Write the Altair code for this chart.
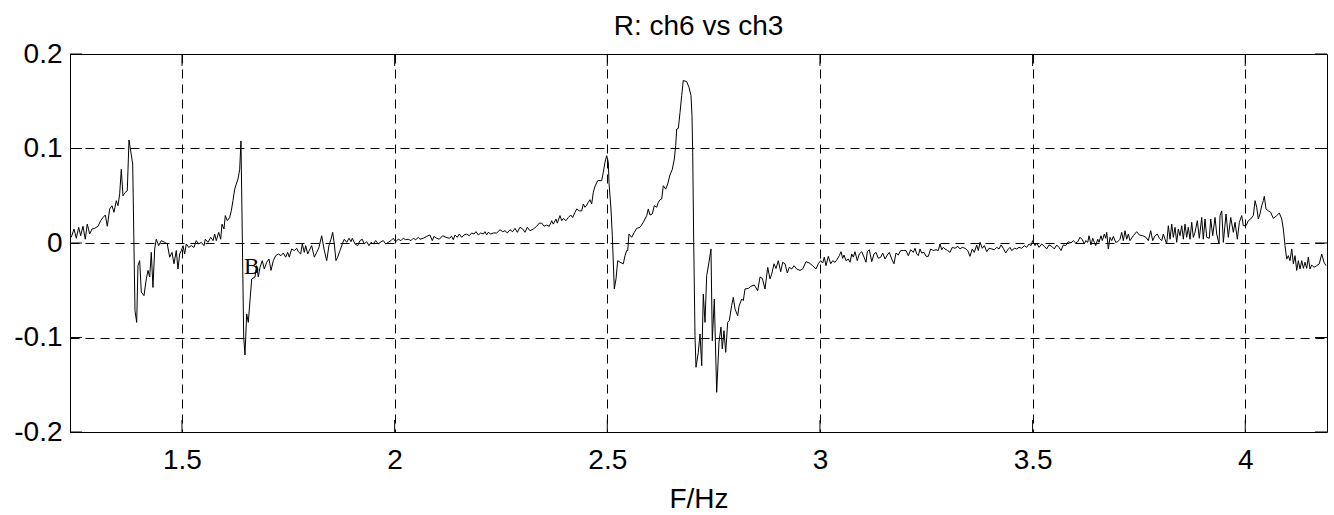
import altair as alt
import pandas as pd

# ---- data: (frequency Hz, R) ----
seg_a = [(1.2397, 0.006), (1.2461, 0.0148), (1.2515, 0.005), (1.2571, 0.0166), (1.2618, 0.0077),
         (1.2672, 0.0177), (1.2726, 0.004), (1.2773, 0.020), (1.2830, 0.0095), (1.2884, 0.0148),
         (1.2947, 0.0155), (1.3025, 0.0177), (1.3088, 0.0236), (1.3142, 0.027), (1.3197, 0.0296),
         (1.3244, 0.0177), (1.3300, 0.036), (1.3354, 0.0395), (1.3401, 0.0325), (1.3455, 0.0448),
         (1.3495, 0.0395), (1.3535, 0.052), (1.3573, 0.078), (1.3613, 0.050), (1.3667, 0.0536),
         (1.3714, 0.0553), (1.3754, 0.109), (1.3841, 0.0836), (1.3895, -0.0716), (1.3935, -0.084),
         (1.3965, -0.024), (1.4005, -0.0187), (1.4043, -0.052), (1.4106, -0.0557), (1.4161, -0.038),
         (1.4201, -0.029), (1.4241, -0.036), (1.4278, -0.0099), (1.4318, -0.047), (1.4358, -0.0063),
         (1.4396, 0.004), (1.4452, -0.0028), (1.4513, 0.0025), (1.4593, 0.0007), (1.4654, -0.001),
         (1.4711, -0.015), (1.4765, -0.0099), (1.4812, -0.022), (1.4866, -0.008), (1.4906, -0.0275),
         (1.4946, -0.0116), (1.4984, -0.008), (1.5024, -0.0028), (1.5063, -0.0116), (1.5101, -0.001),
         (1.5158, -0.0046), (1.5219, -0.0028), (1.5282, -0.0046), (1.5336, 0.0025), (1.5393, -0.001),
         (1.5454, 0.0007), (1.5517, -0.0028), (1.5548, 0.004), (1.5611, 0.0007), (1.5675, 0.006),
         (1.5729, 0.0025), (1.5769, 0.0095), (1.5807, 0.0025), (1.5863, 0.0113), (1.5910, 0.004),
         (1.5941, 0.020), (1.5988, 0.0148), (1.6018, 0.029), (1.6065, 0.0236), (1.6122, 0.027),
         (1.6159, 0.034), (1.6199, 0.0448), (1.6239, 0.057), (1.6277, 0.0624), (1.6317, 0.0677),
         (1.6357, 0.078), (1.6387, 0.108), (1.6451, -0.0995), (1.6481, -0.1185), (1.6521, -0.075),
         (1.6559, -0.084), (1.6639, -0.038), (1.6716, -0.036), (1.6756, -0.024)]

seg_b = [(1.6794, -0.036), (1.6834, -0.0257), (1.6888, -0.0187), (1.6935, -0.0275), (1.6992, -0.0204),
         (1.7046, -0.017), (1.7093, -0.029), (1.7147, -0.0187), (1.7203, -0.0134), (1.7264, -0.0116),
         (1.7328, -0.0134), (1.7382, -0.0106), (1.7438, -0.015), (1.7485, -0.0099), (1.7523, -0.015),
         (1.7579, -0.0063), (1.7641, -0.008), (1.7697, -0.0056), (1.7735, -0.0092), (1.7791, -0.0116),
         (1.7829, -0.001), (1.7876, -0.0099), (1.7909, -0.0028), (1.7956, -0.0116), (1.8010, -0.0063),
         (1.8050, -0.0028), (1.8111, -0.015), (1.8167, -0.0099), (1.8221, -0.0046), (1.8285, 0.0077),
         (1.8339, -0.0063), (1.8402, -0.0187), (1.8456, -0.0028), (1.8503, 0.004), (1.8543, 0.0113),
         (1.8581, -0.001), (1.8621, -0.0187), (1.8661, -0.015), (1.8715, -0.008), (1.8769, -0.001),
         (1.8816, 0.004), (1.8873, 0.0007), (1.8927, 0.005), (1.8974, 0.0014), (1.9004, 0.005),
         (1.9068, -0.001), (1.9131, -0.0028), (1.9185, 0.0025), (1.9239, 0.004), (1.9286, -0.001),
         (1.9343, 0.0014), (1.9397, -0.0028), (1.9444, 0.0007), (1.9498, -0.001), (1.9554, 0.0025),
         (1.9616, -0.001), (1.9679, 0.0014), (1.9733, 0.0025), (1.9790, -0.001), (1.9851, 0.0007),
         (1.9914, 0.0025), (1.9968, 0.005), (2.0025, 0.0014), (2.0086, 0.004), (2.0149, 0.0025),
         (2.0203, 0.005), (2.0260, 0.0035), (2.0321, 0.004), (2.0384, 0.0025), (2.0439, 0.005),
         (2.0495, 0.0035), (2.0556, 0.006)]

seg_c = [(2.0596, 0.004), (2.0674, 0.005), (2.0754, 0.007), (2.0831, 0.0085), (2.0885, 0.0025),
         (2.0925, 0.007), (2.0989, 0.005), (2.1050, 0.004), (2.1130, 0.0077), (2.1207, 0.006),
         (2.1285, 0.005), (2.1341, 0.007), (2.1379, 0.0035), (2.1419, 0.0085), (2.1473, 0.006),
         (2.1520, 0.0095), (2.1577, 0.006), (2.1631, 0.0085), (2.1694, 0.0095), (2.1755, 0.0077),
         (2.1812, 0.0106), (2.1866, 0.0095), (2.1913, 0.012), (2.1967, 0.0085), (2.2023, 0.0106),
         (2.2085, 0.0095), (2.2124, 0.012), (2.2164, 0.0085), (2.2202, 0.0113), (2.2258, 0.0095),
         (2.2320, 0.0106), (2.2400, 0.0106), (2.2477, 0.014), (2.2541, 0.012), (2.2595, 0.013),
         (2.2649, 0.0106), (2.2712, 0.014), (2.2776, 0.012), (2.2830, 0.0155), (2.2884, 0.0113),
         (2.2947, 0.0166), (2.3011, 0.0148), (2.3065, 0.0113), (2.3119, 0.0166), (2.3183, 0.013),
         (2.3260, 0.0148), (2.3340, 0.0177), (2.3401, 0.021), (2.3458, 0.021), (2.3512, 0.0177),
         (2.3575, 0.019), (2.3636, 0.0177), (2.3693, 0.0236), (2.3730, 0.020), (2.3794, 0.0254),
         (2.3825, 0.021), (2.3888, 0.029), (2.3928, 0.0236), (2.3966, 0.026), (2.4029, 0.0236),
         (2.4083, 0.027), (2.4140, 0.0296), (2.4187, 0.027), (2.4241, 0.0325), (2.4281, 0.036),
         (2.4342, 0.034), (2.4398, 0.034), (2.4436, 0.0413), (2.4476, 0.0378), (2.4516, 0.040),
         (2.4553, 0.043), (2.4593, 0.0458), (2.4633, 0.0413), (2.4671, 0.0536)]

seg_d = [(2.4711, 0.060), (2.4775, 0.066), (2.4868, 0.066), (2.4906, 0.0748), (2.4946, 0.0854),
         (2.4986, 0.0924), (2.5024, 0.0854), (2.5040, 0.064), (2.5087, 0.036), (2.5118, 0.0077),
         (2.5165, -0.0487), (2.5205, -0.038), (2.5245, -0.0187), (2.5299, -0.0204), (2.5377, -0.022),
         (2.5416, -0.0134), (2.5456, -0.008), (2.5480, -0.008), (2.5510, 0.0095), (2.5574, 0.006),
         (2.5635, 0.0113), (2.5691, 0.0155), (2.5769, 0.0166), (2.5847, 0.0219), (2.5927, 0.029),
         (2.5964, 0.036), (2.6004, 0.0296), (2.6058, 0.0307), (2.6105, 0.0395), (2.6162, 0.0378),
         (2.6199, 0.043), (2.6239, 0.0458), (2.6279, 0.0466), (2.6317, 0.0606), (2.6373, 0.057),
         (2.6420, 0.0624), (2.6474, 0.072), (2.6529, 0.078), (2.6576, 0.0889), (2.6608, 0.103),
         (2.6632, 0.1206), (2.6670, 0.1213), (2.6710, 0.138), (2.6749, 0.156), (2.6787, 0.172),
         (2.6867, 0.1707), (2.6921, 0.1647), (2.6968, 0.156), (2.6992, 0.1347), (2.7008, 0.096),
         (2.7032, 0.0007), (2.7062, -0.098), (2.7086, -0.1315), (2.7140, -0.1157), (2.7180, -0.0963),
         (2.7220, -0.1298), (2.7257, -0.054), (2.7297, -0.084), (2.7337, -0.0346), (2.7391, -0.0204),
         (2.7438, -0.0063), (2.7469, -0.1034), (2.7516, -0.0593), (2.7572, -0.158), (2.7626, -0.105),
         (2.7673, -0.089), (2.7704, -0.112), (2.7744, -0.0928), (2.7784, -0.1157), (2.7831, -0.084),
         (2.7869, -0.082), (2.7925, -0.066), (2.7963, -0.0575), (2.8003, -0.0698), (2.8066, -0.077),
         (2.8097, -0.067), (2.8160, -0.0593), (2.8198, -0.061), (2.8238, -0.0487), (2.8316, -0.048),
         (2.8379, -0.0458), (2.8457, -0.0444), (2.8536, -0.0505), (2.8591, -0.036), (2.8645, -0.0374),
         (2.8708, -0.0487), (2.8772, -0.0257)]

seg_e = [(2.8826, -0.038), (2.8866, -0.033), (2.8920, -0.022), (2.8967, -0.027), (2.9021, -0.0187),
         (2.9077, -0.0304), (2.9124, -0.0204), (2.9178, -0.022), (2.9233, -0.0317), (2.9280, -0.0257),
         (2.9336, -0.0275), (2.9390, -0.024), (2.9453, -0.0275), (2.9531, -0.029), (2.9595, -0.0275),
         (2.9672, -0.0198), (2.9750, -0.0212), (2.9830, -0.024), (2.9907, -0.0275), (2.9961, -0.022),
         (3.0018, -0.0187), (3.0065, -0.0212), (3.0102, -0.015), (3.0142, -0.024), (3.0197, -0.0141),
         (3.0253, -0.022), (3.0300, -0.0187), (3.0354, -0.0204), (3.0408, -0.017), (3.0455, -0.0134),
         (3.0495, -0.0092), (3.0535, -0.0162), (3.0566, -0.0127), (3.0613, -0.0187), (3.0667, -0.017),
         (3.0707, -0.0204), (3.0747, -0.0116), (3.0784, -0.015), (3.0824, -0.0092), (3.0878, -0.0187),
         (3.0925, -0.0116), (3.0982, -0.0092), (3.1036, -0.015), (3.1083, -0.0204), (3.1114, -0.0092),
         (3.1161, -0.0071), (3.1217, -0.0198), (3.1271, -0.0116), (3.1318, -0.0099), (3.1372, -0.0162),
         (3.1429, -0.015), (3.1476, -0.0106), (3.1530, -0.017), (3.1584, -0.0127), (3.1631, -0.0099),
         (3.1687, -0.017), (3.1741, -0.022), (3.1788, -0.0106), (3.1842, -0.0127), (3.1899, -0.008),
         (3.1960, -0.008), (3.2023, -0.008), (3.2077, -0.0134), (3.2134, -0.0071), (3.2195, -0.0099),
         (3.2235, -0.0056), (3.2275, -0.0116), (3.2313, -0.0134), (3.2353, -0.0063), (3.2393, -0.0106),
         (3.2447, -0.0099), (3.2494, -0.0141), (3.2548, -0.0141), (3.2604, -0.0063), (3.2666, -0.008),
         (3.2729, -0.0071), (3.2783, -0.008), (3.2823, -0.001), (3.2863, -0.0071), (3.2901, -0.0046)]

seg_f = [(3.2940, -0.0063), (3.3004, -0.008), (3.3058, -0.0099), (3.3112, -0.0046), (3.3176, -0.0056),
         (3.3239, -0.0035), (3.3293, -0.0063), (3.3347, -0.0046), (3.3411, -0.0056), (3.3474, -0.008),
         (3.3528, -0.0141), (3.3582, -0.0063), (3.3630, -0.0099), (3.3686, -0.0021), (3.3724, -0.008),
         (3.3764, 0.0007), (3.3818, -0.0056), (3.3865, -0.0028), (3.3921, -0.0092), (3.3975, -0.0056),
         (3.4039, -0.0063), (3.4100, -0.0071), (3.4156, -0.0046), (3.4210, -0.0063), (3.4257, -0.0021),
         (3.4311, -0.0056), (3.4368, -0.0106), (3.4415, -0.0071), (3.4469, -0.0046), (3.4509, -0.008),
         (3.4570, -0.0056), (3.4626, -0.0063), (3.4680, -0.0046), (3.4744, -0.0056), (3.4805, -0.0028),
         (3.4861, -0.0046), (3.4916, -0.001), (3.4963, -0.0028), (3.5002, 0.0025), (3.5057, -0.0028),
         (3.5097, 0.0), (3.5151, -0.0046), (3.5214, -0.001), (3.5275, -0.0035), (3.5332, -0.0063),
         (3.5386, -0.0021), (3.5449, -0.0035), (3.5511, -0.0063), (3.5567, -0.0021), (3.5621, -0.0046),
         (3.5668, -0.008), (3.5722, -0.0021), (3.5778, -0.0028), (3.5840, 0.0014), (3.5903, 0.0),
         (3.5957, 0.0025), (3.6014, 0.0), (3.6061, 0.0014), (3.6115, 0.006), (3.6169, 0.0035),
         (3.6216, -0.001), (3.6249, 0.0025), (3.6296, 0.0007), (3.6327, 0.0077), (3.6373, -0.0021),
         (3.6413, 0.005), (3.6451, 0.0007), (3.6484, -0.0028), (3.6531, 0.004), (3.6561, 0.0007),
         (3.6608, 0.0077), (3.6639, 0.0025), (3.6686, 0.0095), (3.6719, 0.005), (3.6743, 0.0113),
         (3.6780, -0.0063), (3.6820, 0.006), (3.6860, 0.0025), (3.6898, 0.007), (3.6954, 0.0007),
         (3.7001, 0.0014)]

seg_g = [(3.7055, 0.004), (3.7095, 0.0113), (3.7133, 0.0025), (3.7173, 0.013), (3.7213, 0.004),
         (3.7251, 0.0095), (3.7290, 0.0025), (3.7368, 0.0077), (3.7448, 0.012), (3.7509, 0.0085),
         (3.7589, 0.0077), (3.7667, 0.006), (3.7721, 0.0025), (3.7777, 0.013), (3.7824, 0.0025),
         (3.7878, 0.0077), (3.7933, 0.0095), (3.7980, 0.005), (3.8036, 0.0025), (3.8074, 0.0095),
         (3.8113, 0.004), (3.8153, -0.001), (3.8191, 0.0183), (3.8231, 0.004), (3.8271, 0.020),
         (3.8309, 0.006), (3.8349, 0.0166), (3.8388, 0.0007), (3.8426, 0.0148), (3.8466, 0.0077),
         (3.8506, 0.0183), (3.8544, 0.004), (3.8584, 0.020), (3.8623, 0.006), (3.8661, 0.0166),
         (3.8701, 0.004), (3.8741, 0.0219), (3.8779, 0.006), (3.8819, 0.0113), (3.8873, 0.0236),
         (3.8920, 0.005), (3.8976, 0.027), (3.9014, 0.004), (3.9054, 0.0254), (3.9094, 0.006),
         (3.9155, 0.005), (3.9188, 0.0254), (3.9235, 0.0077), (3.9289, 0.027), (3.9329, 0.0095),
         (3.9383, -0.001), (3.9407, 0.029), (3.9447, 0.034), (3.9485, 0.0007), (3.9548, 0.0307),
         (3.9602, 0.006), (3.9658, 0.027), (3.9720, 0.0113), (3.9759, 0.0219), (3.9814, 0.004),
         (3.9861, 0.0219), (3.9917, 0.029), (3.9955, 0.0183), (4.0018, 0.0183), (4.0072, 0.0236),
         (4.0128, 0.0254), (4.0190, 0.029), (4.0230, 0.0448), (4.0269, 0.0378), (4.0307, 0.0254),
         (4.0347, 0.0307), (4.0387, 0.0395), (4.0425, 0.0448), (4.0448, 0.0494), (4.0488, 0.036),
         (4.0542, 0.034), (4.0598, 0.0325), (4.0660, 0.026), (4.0740, 0.029), (4.0801, 0.0317),
         (4.0858, 0.0254), (4.0895, 0.0148), (4.0935, -0.0028), (4.0975, -0.017), (4.1013, -0.0134),
         (4.1053, -0.0187), (4.1093, -0.0063), (4.1131, -0.022), (4.1170, -0.0134), (4.1210, -0.029),
         (4.1248, -0.0187), (4.1288, -0.0275), (4.1328, -0.0187), (4.1366, -0.0268), (4.1405, -0.0204),
         (4.1445, -0.0268), (4.1483, -0.015), (4.1523, -0.0275), (4.1563, -0.0233), (4.1617, -0.0257),
         (4.1680, -0.024), (4.1741, -0.022), (4.1798, -0.0116), (4.1852, -0.0204), (4.1899, -0.024)]

x_ticks = [1.5, 2, 2.5, 3, 3.5, 4]
y_ticks = [-0.2, -0.1, 0, 0.1, 0.2]
x_domain = [1.2367, 4.1922]
y_domain = [-0.2, 0.2]
marker_label = [{"f": 1.6458, "r": -0.0328, "txt": "B"}]

title_text = "R: ch6 vs ch3"
x_title = "F/Hz"

# ---- build table ----
rows = []
for seg in (seg_a, seg_b, seg_c, seg_d, seg_e, seg_f, seg_g):
    rows.extend(seg)
df = pd.DataFrame(rows, columns=["f", "r"])

W, H = 1257, 378
FONT = "Liberation Sans"
TL = 12  # inner tick length

xs = alt.Scale(domain=x_domain, nice=False, zero=False)
ys = alt.Scale(domain=y_domain, nice=False, zero=False)

x_axis = alt.Axis(values=x_ticks, labelExpr="'' + datum.value", grid=True,
                  gridColor="black", gridDash=[9, 6], gridOpacity=1, gridWidth=1,
                  ticks=False, domain=False, labelFont=FONT, labelFontSize=28,
                  labelColor="black", labelPadding=14, titleFont=FONT,
                  titleFontSize=28, titleFontWeight="normal", titleColor="black",
                  titleBaseline="alphabetic", titleY=75)
y_axis = alt.Axis(values=y_ticks, labelExpr="'' + datum.value", grid=True,
                  gridColor="black", gridDash=[9, 6], gridOpacity=1, gridWidth=1,
                  ticks=False, domain=False, labelFont=FONT, labelFontSize=28,
                  labelColor="black", labelPadding=8)

line = alt.Chart(df).mark_line(color="black", strokeWidth=1).encode(
    x=alt.X("f:Q", scale=xs, axis=x_axis, title=x_title),
    y=alt.Y("r:Q", scale=ys, axis=y_axis, title=None),
)

lab = alt.Chart(pd.DataFrame(marker_label)).mark_text(
    font="Liberation Serif", fontSize=23, align="left", baseline="alphabetic", color="black"
).encode(x=alt.X("f:Q", scale=xs), y=alt.Y("r:Q", scale=ys), text="txt:N")

ydf = pd.DataFrame({"v": y_ticks})
xdf = pd.DataFrame({"v": x_ticks})
tick_l = alt.Chart(ydf).mark_rule(color="black", strokeWidth=1).encode(
    y=alt.Y("v:Q", scale=ys), x=alt.value(0), x2=alt.value(TL))
tick_r = alt.Chart(ydf).mark_rule(color="black", strokeWidth=1).encode(
    y=alt.Y("v:Q", scale=ys), x=alt.value(W - TL), x2=alt.value(W))
tick_b = alt.Chart(xdf).mark_rule(color="black", strokeWidth=1).encode(
    x=alt.X("v:Q", scale=xs), y=alt.value(H), y2=alt.value(H - TL))
tick_t = alt.Chart(xdf).mark_rule(color="black", strokeWidth=1).encode(
    x=alt.X("v:Q", scale=xs), y=alt.value(0), y2=alt.value(TL))

# chart title drawn as a text mark centred over the plot area
ttl = alt.Chart(pd.DataFrame({"t": [title_text]})).mark_text(
    font=FONT, fontSize=28, align="center", baseline="alphabetic", color="black"
).encode(x=alt.value(W / 2), y=alt.value(-19), text="t:N")

chart = alt.layer(line, tick_l, tick_r, tick_b, tick_t, lab, ttl).properties(
    width=W, height=H,
    autosize=alt.AutoSizeParams(type="none"),
    padding={"left": 70, "top": 54, "right": 7, "bottom": 83},
).configure(background="white", view=alt.ViewConfig(stroke="black", strokeWidth=1))

chart.save("out.html", embed_options={"renderer": "svg", "actions": False})
